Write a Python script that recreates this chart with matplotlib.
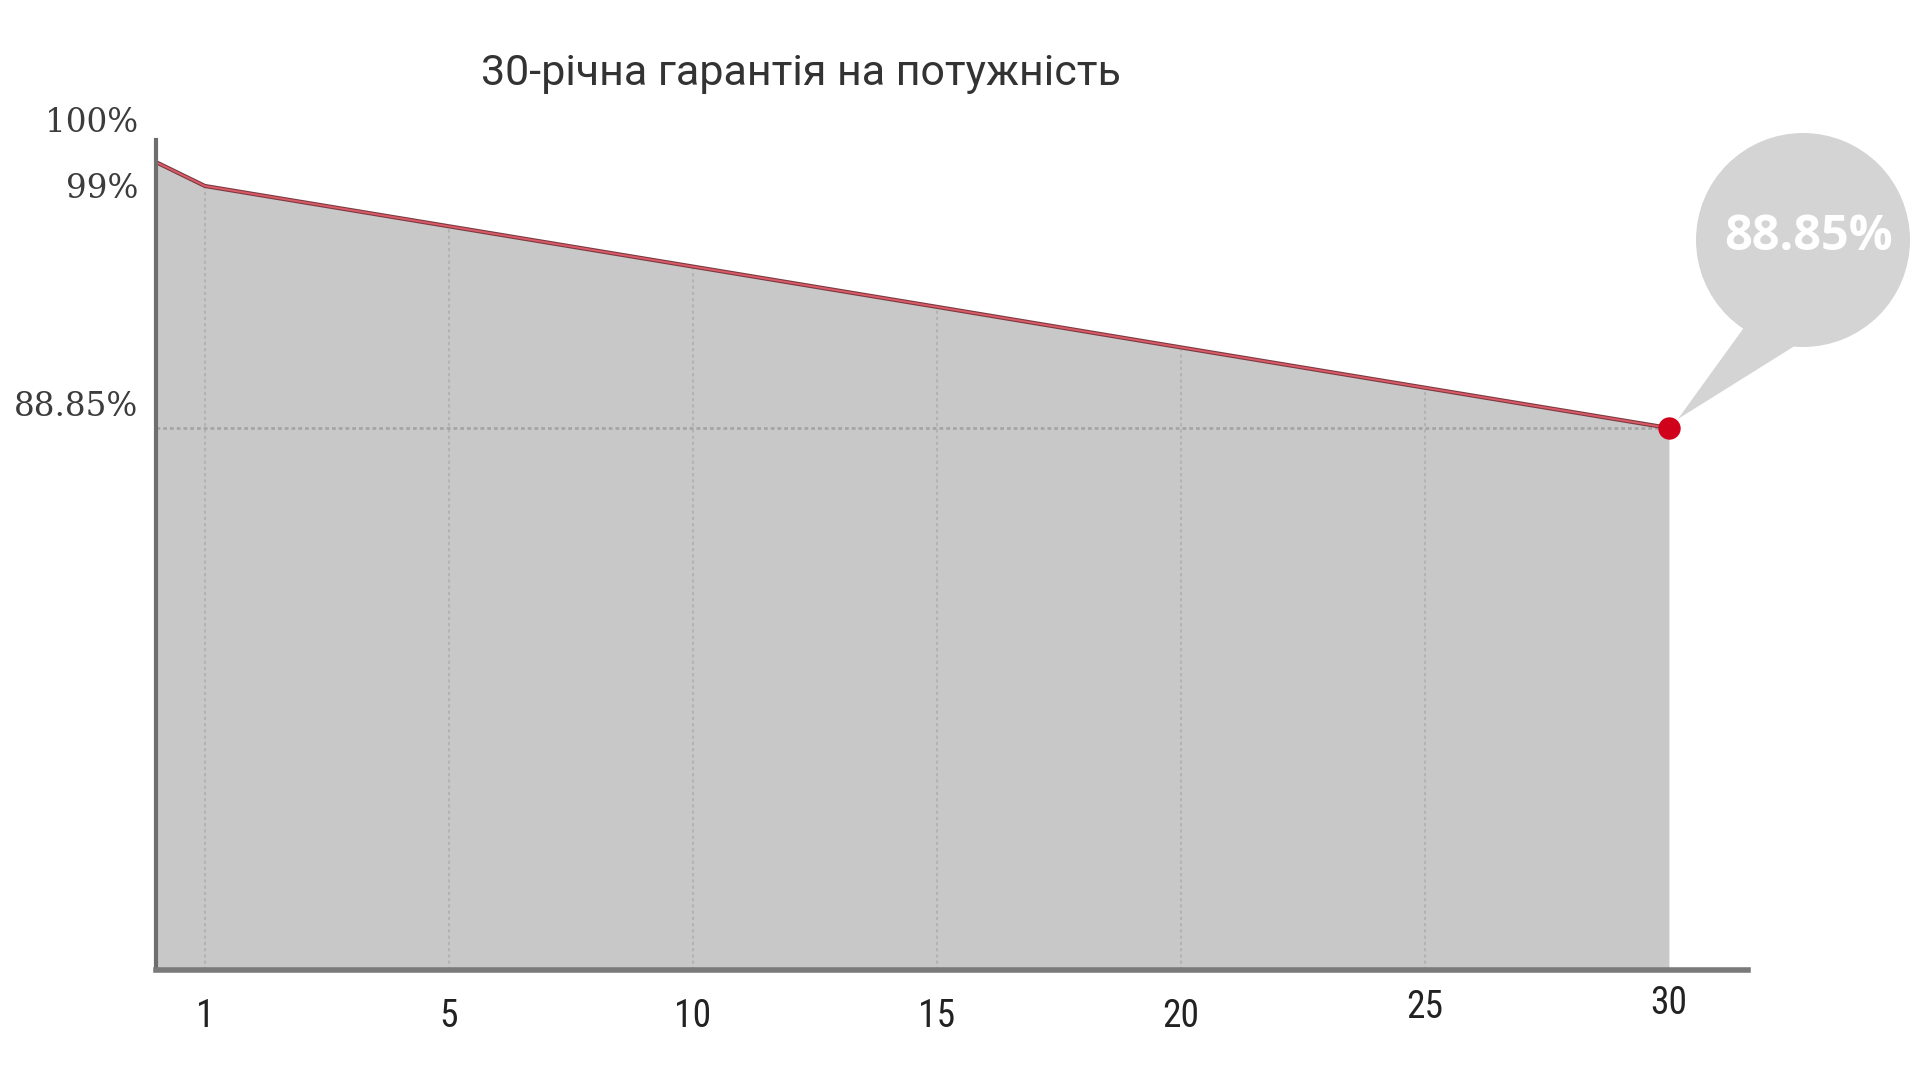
import matplotlib
matplotlib.use("Agg")
import matplotlib.pyplot as plt
from matplotlib.patches import Circle, Polygon
import matplotlib.transforms as mtrans
from matplotlib import font_manager
import numpy as np

# ---- data ----
tick_labels = ["1", "5", "10", "15", "20", "25", "30"]
start_value = 100.0                      # value at the origin (year 0)
values = [99.0, 97.31, 95.62, 93.93, 92.23, 90.54, 88.85]   # % at each labelled year
y_labels = ["100%", "99%", "88.85%"]
y_label_values = [100.0, 99.0, 88.85]
title = "30-річна гарантія на потужність"
callout = "88.85%"

# ---- fonts ----
names = {f.name for f in font_manager.fontManager.ttflist}
def pick(*cands):
    for c in cands:
        if c in names:
            return c
    return "DejaVu Sans"
narrow = pick("Liberation Sans Narrow", "Roboto Condensed", "Roboto", "Liberation Sans")
title_font = pick("Roboto", "Liberation Sans")

W, H, DPI = 1920, 1080, 100
fig = plt.figure(figsize=(W / DPI, H / DPI), dpi=DPI)
fig.patch.set_facecolor("white")

ax = fig.add_axes([0.0813, 0.1019, 0.9104 - 0.0813, 0.8704 - 0.1019])
ax.set_facecolor("white")

# layout positions: origin, then first labelled year, then slots 5 units apart
xpos = [0.0] + [1.0 + 5.0 * i for i in range(len(tick_labels))]
yvals = [start_value] + values

ymin = 66.12
ax.set_xlim(0, 32.62)
ax.set_ylim(ymin, 100.93)

fill_col = "#c8c8c8"
ax.fill_between(xpos, yvals, ymin, color=fill_col, lw=0, zorder=1)

# vertical dotted grid lines inside the filled area
for x, v in zip(xpos[1:-1], values[:-1]):
    ax.plot([x, x], [ymin, v], color="#b3b3b3", lw=1.5, ls=(0, (1.5, 1.5)), zorder=2)

# horizontal dotted line at final value
ax.plot([0, xpos[-1]], [values[-1], values[-1]], color="#a2a2a2", lw=1.8,
        ls=(0, (1.5, 1.2)), zorder=2)

# the warranty line
ax.plot(xpos, yvals, color="#7a3a40", lw=3.0, zorder=3, solid_capstyle="round")
ax.plot(xpos, yvals, color="#dc5a68", lw=1.4, zorder=4, solid_capstyle="round")

# red end point
ax.scatter([xpos[-1]], [values[-1]], s=260, color="#d0021b", zorder=6, lw=0)

# spines
for s in ["top", "right"]:
    ax.spines[s].set_visible(False)
ax.spines["left"].set_color("#6e6e6e")
ax.spines["left"].set_linewidth(3)
ax.spines["bottom"].set_color("#7a7a7a")
ax.spines["bottom"].set_linewidth(4)
ax.spines["left"].set_zorder(5)
ax.spines["bottom"].set_zorder(5)

# x tick labels
ax.set_xticks(xpos[1:])
ax.set_xticklabels(tick_labels, family=[narrow, "DejaVu Sans"], fontsize=27, color="#222222")
ax.tick_params(axis="x", length=0, pad=20)
for lbl, dy in zip(ax.get_xticklabels(), [0, 0, 0, 0, 0, 9, 13]):
    lbl.set_y(lbl.get_position()[1] + dy / 825.0)
ax.set_yticks([])

# y labels (placed slightly above their levels like the reference)
offsets_px = [39, -3, 21]
for txt, val, off in zip(y_labels, y_label_values, offsets_px):
    tr = ax.get_yaxis_transform() + mtrans.ScaledTranslation(0, off / DPI, fig.dpi_scale_trans)
    ax.text(-0.011, val, txt, transform=tr, ha="right", va="center",
            family="DejaVu Serif", fontsize=23.5, color="#3c3c3c")

# title
fig.text(0.4172, 1 - 73 / H, title, ha="center", va="center",
         family=[title_font, "DejaVu Sans"], fontsize=31, color="#333333")

# speech bubble (drawn in figure pixel space, tail pointing at the end point)
fig.canvas.draw()
ov = fig.add_axes([0, 0, 1, 1], zorder=10)
ov.set_xlim(0, W)
ov.set_ylim(0, H)
ov.axis("off")
ov.patch.set_alpha(0)
tipx, tipy = ax.transData.transform((xpos[-1], values[-1]))
cx, cy, r = 1803, H - 240, 107
bub_col = "#d4d4d4"
ov.add_patch(Circle((cx, cy), r, color=bub_col, lw=0))
ang1, ang2 = np.deg2rad(236), np.deg2rad(265)
tail = Polygon([(tipx + 9, tipy + 9),
                (cx + r * np.cos(ang1), cy + r * np.sin(ang1)),
                (cx, cy),
                (cx + r * np.cos(ang2), cy + r * np.sin(ang2))],
               closed=True, color=bub_col, lw=0)
ov.add_patch(tail)
ov.text(cx + 6, H - 238, callout, ha="center", va="center", color="white",
        fontsize=35, fontweight="bold", family=["Open Sans", "DejaVu Sans"])

fig.savefig("out.png", dpi=DPI, facecolor="white")
